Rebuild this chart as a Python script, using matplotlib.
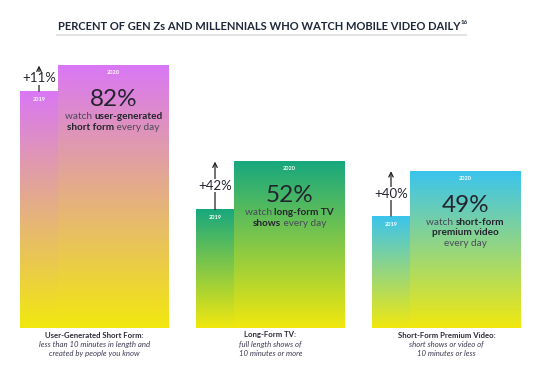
import matplotlib
matplotlib.use("Agg")
import matplotlib.pyplot as plt
import numpy as np
from matplotlib.offsetbox import TextArea, HPacker, AnnotationBbox
from matplotlib.colors import LinearSegmentedColormap
from matplotlib.lines import Line2D

# ---------------- data ----------------
categories = ["User-Generated Short Form:", "Long-Form TV:", "Short-Form Premium Video:"]
descriptions = [
    ["less than 10 minutes in length and", "created by people you know"],
    ["full length shows of", "10 minutes or more"],
    ["short shows or video of", "10 minutes or less"],
]
years = ["2019", "2020"]
values_2019 = [74, 37, 35]
values_2020 = [82, 52, 49]
growth_labels = ["+11%", "+42%", "+40%"]
big_labels = ["82%", "52%", "49%"]
blurbs = [
    [[("watch ", False), ("user-generated", True)],
     [("short form", True), (" every day", False)]],
    [[("watch ", False), ("long-form TV", True)],
     [("shows", True), (" every day", False)]],
    [[("watch ", False), ("short-form", True)],
     [("premium video", True)],
     [("every day", False)]],
]
title = "PERCENT OF GEN Zs AND MILLENNIALS WHO WATCH MOBILE VIDEO DAILY"
title_note = "16"

top_colors = ["#d977f5", "#17a87e", "#3bc4ee"]
bottom_color = "#f1e80f"

FONT = "Lato"
DARK = "#24242e"
MID = "#4a4a58"

W, H = 539, 365
fig = plt.figure(figsize=(W / 100, H / 100), dpi=100)
ax = fig.add_axes([0, 37 / H, 1, 320 / H])
ax.set_axis_off()

unit = 176.0  # pixels per group
w19 = 38 / unit
w20 = 111 / unit
x = np.arange(len(categories))

bars19 = ax.bar(x, values_2019, width=w19, align="edge", color="none", lw=0)
bars20 = ax.bar(x + w19, values_2020, width=w20, align="edge", color="none", lw=0)

grad = np.linspace(0, 1, 256).reshape(-1, 1)
for i in range(len(categories)):
    cmap = LinearSegmentedColormap.from_list(f"g{i}", [bottom_color, top_colors[i]])
    for b in (bars19[i], bars20[i]):
        x0, bw, bh = b.get_x(), b.get_width(), b.get_height()
        ax.imshow(grad, extent=[x0, x0 + bw, 0, bh], origin="lower", aspect="auto",
                  cmap=cmap, zorder=1, interpolation="bilinear")

ax.set_xlim(-20 / unit, (W - 20) / unit)
ax.set_ylim(0, 100)

px = 0.72  # points per pixel

for i in range(len(categories)):
    b19, b20 = bars19[i], bars20[i]
    c19 = b19.get_x() + b19.get_width() / 2
    c20 = b20.get_x() + b20.get_width() / 2
    v19, v20 = values_2019[i], values_2020[i]
    # year labels
    ax.annotate(years[0], (c19, v19), xytext=(0, -8), textcoords="offset pixels",
                ha="center", va="center", fontsize=4, color="white",
                fontweight="bold", family=FONT, zorder=3)
    ax.annotate(years[1], (c20, v20), xytext=(0, -7), textcoords="offset pixels",
                ha="center", va="center", fontsize=4, color="white",
                fontweight="bold", family=FONT, zorder=3)
    # growth arrow
    ax.annotate("", xy=(c19, v20), xytext=(c19, v19),
                arrowprops=dict(arrowstyle="->", color="#222222", lw=0.9,
                                shrinkA=0, shrinkB=0, mutation_scale=8),
                zorder=3)
    ax.text(c19, (v19 + v20) / 2, growth_labels[i], ha="center", va="center",
            fontsize=9.5, color=DARK, family=FONT, zorder=4,
            bbox=dict(facecolor="white", edgecolor="none", pad=0.6))
    # big value
    ax.annotate(big_labels[i], (c20, v20), xytext=(0, -34), textcoords="offset pixels",
                ha="center", va="center", fontsize=17.5, color=DARK, family=FONT, zorder=3)
    # blurb lines
    for j, line in enumerate(blurbs[i]):
        parts = [TextArea(t, textprops=dict(fontsize=7.2, family=FONT,
                                            fontweight="bold" if bold else "normal",
                                            color=DARK if bold else MID))
                 for t, bold in line]
        hp = HPacker(children=parts, align="baseline", pad=0, sep=0)
        ab = AnnotationBbox(hp, (c20, v20), xybox=(0, (-51 - 10.5 * j) * px),
                            boxcoords="offset points", frameon=False,
                            box_alignment=(0.5, 0.5), zorder=3)
        ax.add_artist(ab)
    # category labels
    cx = (b19.get_x() + b20.get_x() + b20.get_width()) / 2
    ax.annotate(categories[i], (cx, 0), xytext=(0, -7), textcoords="offset pixels",
                ha="center", va="center", fontsize=5.6, color="#2b2b38",
                fontweight="bold", family=FONT)
    for j, d in enumerate(descriptions[i]):
        ax.annotate(d, (cx, 0), xytext=(0, -16 - 9.5 * j), textcoords="offset pixels",
                    ha="center", va="center", fontsize=5.6, color="#3a3a52",
                    style="italic", family=FONT)

# title
t = fig.text(259 / W, 1 - 26 / H, title, ha="center", va="center",
             fontsize=8, fontweight="bold", color="#1f2838", family=FONT)
ax.annotate(title_note, xy=(1, 0.85), xycoords=t, xytext=(0.3, 0),
            textcoords="offset points", fontsize=4.5, fontweight="bold",
            color="#1f2838", family=FONT, va="center", ha="left",
            annotation_clip=False)
fig.add_artist(Line2D([57 / W, 466 / W], [1 - 35 / H, 1 - 35 / H],
                      color="#e3e3e3", lw=2 * px, transform=fig.transFigure))

fig.savefig("out.png", dpi=100)
